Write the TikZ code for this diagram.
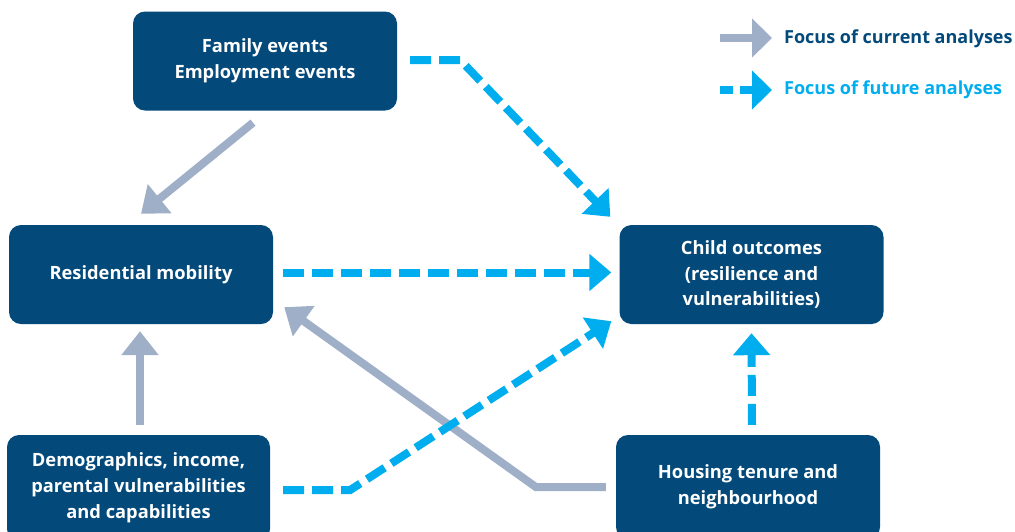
\documentclass[tikz,border=0pt]{standalone}
\usepackage{fontspec}
\setmainfont{Open Sans}
\usetikzlibrary{arrows.meta,calc}
\definecolor{navy}{HTML}{03497A}
\definecolor{greyarr}{HTML}{9FAFC8}
\definecolor{cyanarr}{HTML}{00AEEF}
\begin{document}
\begin{tikzpicture}[x=1pt,y=-1pt,
  box/.style={fill=navy,rounded corners=12pt,minimum width=264pt,minimum height=99pt,
    text=white,font=\fontsize{18.3}{25.8}\selectfont\bfseries,align=center,inner sep=0pt},
  cur/.style={draw=greyarr,line width=8pt,-{Triangle[length=24pt,width=36pt]}},
  fut/.style={draw=cyanarr,line width=8pt,dash pattern=on 21pt off 8pt,-{Triangle[length=22pt,width=36pt]}},
  leg/.style={font=\fontsize{18}{20}\selectfont\bfseries,anchor=west,inner sep=0pt}]
\useasboundingbox (0,0) rectangle (1015,531);
\node[box] (fam) at (265,61) {Family events\\Employment events};
\node[box] (res) at (141,274.5) {Residential mobility};
\node[box] (chi) at (751.5,274.5) {Child outcomes\\(resilience and\\vulnerabilities)};
\node[box,minimum width=263pt,minimum height=106pt] (dem) at (138.5,488) {Demographics, income,\\parental vulnerabilities\\and capabilities};
\node[box,minimum height=104pt] (hou) at (748,487) {Housing tenure and\\neighbourhood};
% current analyses
\draw[cur] ($(fam.south)+(-12,12)$) -- ($(res.north)+(0,-11)$);
\draw[cur] ($(res.south |- dem.north)+(-1,-10)$) -- ($(res.south)+(-1,7)$);
\draw[cur] ($(hou.west)+(-10,0)$) -- ($(hou.west)+(-80,0)$) -- ($(res.south east)+(11,-17)$);
% future analyses
\draw[fut] ($(fam.east)+(13,-1)$) -- ($(fam.east)+(63,-1)$) -- ($(chi.north west)+(-9,-8)$);
\draw[fut] ($(res.east)+(10,-2)$) -- ($(chi.west)+(-8,-2)$);
\draw[fut] ($(dem.east)+(13,2)$) -- ($(dem.east)+(80,2)$) -- ($(chi.south west)+(-8,-3)$);
\draw[fut] ($(hou.north)+(4,-10)$) -- ($(chi.south)+(0,9)$);
% legend
\coordinate (lc) at (720,38);
\coordinate (lf) at (720,90);
\draw[cur,-{Triangle[length=20pt,width=38pt]}] (lc) -- ++(52,0) coordinate (lce);
\node[leg,text=navy] (lct) at ($(lce)+(12,1)$) {Focus of current analyses};
\draw[fut,dash pattern=on 13pt off 7pt,-{Triangle[length=20pt,width=38pt]}] (lf) -- ++(52,0) coordinate (lfe);
\node[leg,text=cyanarr] (lft) at ($(lfe)+(12,0)$) {Focus of future analyses};
\end{tikzpicture}
\end{document}
